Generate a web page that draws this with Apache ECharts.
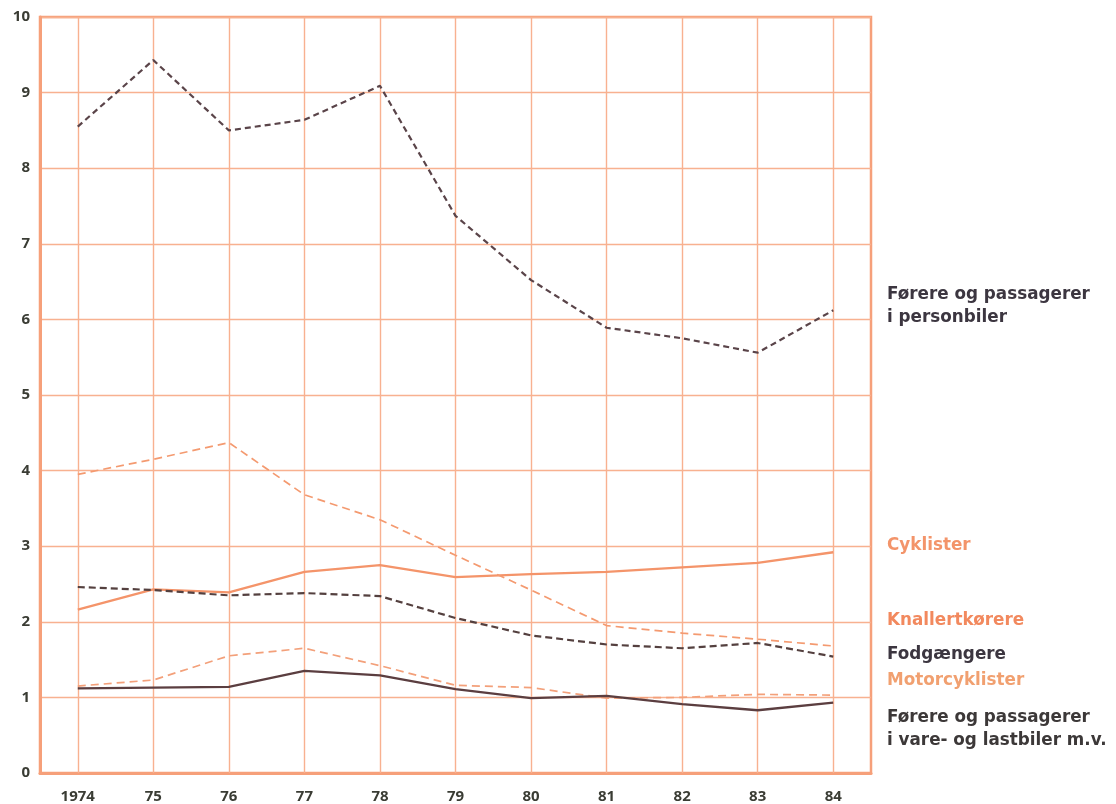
<!DOCTYPE html>
<html>
<head>
<meta charset="utf-8">
<script src="https://cdn.jsdelivr.net/npm/echarts@6/dist/echarts.min.js"></script>
<style>
html,body{margin:0;padding:0;background:#fff;}
#chart{width:1116px;height:804px;}
</style>
</head>
<body>
<div id="chart"></div>
<script>
const categories = ['1974','75','76','77','78','79','80','81','82','83','84'];
const yTicks = [0,1,2,3,4,5,6,7,8,9,10];
const personbiler = [8.55, 9.43, 8.5, 8.64, 9.09, 7.37, 6.52, 5.89, 5.75, 5.56, 6.12];
const cyklister = [2.16, 2.43, 2.39, 2.66, 2.75, 2.59, 2.63, 2.66, 2.72, 2.78, 2.92];
const knallert = [3.95, 4.15, 4.37, 3.68, 3.35, 2.88, 2.42, 1.95, 1.85, 1.77, 1.68];
const fodgaengere = [2.46, 2.42, 2.35, 2.38, 2.34, 2.05, 1.82, 1.70, 1.65, 1.72, 1.54];
const motorcyklister = [1.15, 1.23, 1.55, 1.65, 1.42, 1.16, 1.13, 0.99, 1.0, 1.04, 1.03];
const varebiler = [1.12, 1.13, 1.14, 1.35, 1.29, 1.11, 0.99, 1.02, 0.91, 0.83, 0.93];
const seriesNames = ['Førere og passagerer\ni personbiler','Cyklister','Knallertkørere','Fodgængere','Motorcyklister','Førere og passagerer\ni vare- og lastbiler m.v.'];

const gridColor = '#F8B190';
const borderColor = '#F6A07A';
const textDark = '#3A3C34';
const labelFont = 'bold 16.8px "DejaVu Sans"';

const chart = echarts.init(document.getElementById('chart'), null, {renderer:'canvas'});

function line(name, data, color, type, width, dash){
  return {
    name: name, type: 'line', data: data, symbol: 'none', silent: true,
    lineStyle: {color: color, width: width, type: type === 'dashed' ? dash : 'solid'},
    z: 5
  };
}

const option = {
  animation: false,
  backgroundColor: '#fff',
  grid: {left: 40, top: 17, right: 245, bottom: 31, show: true, borderColor: borderColor, borderWidth: 2.5, backgroundColor: 'transparent'},
  xAxis: {
    type: 'category', data: categories, boundaryGap: true,
    axisLine: {show: true, lineStyle: {color: borderColor, width: 3}},
    axisTick: {show: false},
    splitLine: {show: false},
    axisLabel: {color: textDark, fontFamily: 'Open Sans', fontWeight: 'bold', fontSize: 15, margin: 16}
  },
  yAxis: {
    type: 'value', min: 0, max: 10, interval: 1,
    axisLine: {show: true, lineStyle: {color: borderColor, width: 3}},
    axisTick: {show: false},
    splitLine: {show: true, lineStyle: {color: gridColor, width: 1.4}},
    axisLabel: {color: textDark, fontFamily: 'Open Sans', fontWeight: 'bold', fontSize: 15, margin: 10,
      formatter: function(v){ return yTicks.indexOf(v) >= 0 ? String(v) : ''; }}
  },
  series: [
    {
      type: 'line', data: [], silent: true,
      markLine: {
        silent: true, symbol: 'none', animation: false,
        label: {show: false},
        lineStyle: {color: gridColor, width: 1.4, type: 'solid'},
        data: categories.map(c => ({xAxis: c}))
      }
    },
    line(seriesNames[0], personbiler, '#5A4449', 'dashed', 2.2, [6,4]),
    line(seriesNames[1], cyklister, '#F4946A', 'solid', 2.3),
    line(seriesNames[2], knallert, '#F49A70', 'dashed', 1.7, [8,5]),
    line(seriesNames[3], fodgaengere, '#54403F', 'dashed', 2.2, [7,4]),
    line(seriesNames[4], motorcyklister, '#F3A07A', 'dashed', 1.7, [8,5]),
    line(seriesNames[5], varebiler, '#5B3E40', 'solid', 2.3)
  ],
  graphic: [
    {type:'text', left: 887, top: 283, style:{text: seriesNames[0], fill:'#3C3640', font: labelFont, lineHeight: 23}},
    {type:'text', left: 887, top: 537, style:{text: seriesNames[1], fill:'#F3946A', font: labelFont}},
    {type:'text', left: 887, top: 612, style:{text: seriesNames[2], fill:'#F2895E', font: labelFont}},
    {type:'text', left: 887, top: 646, style:{text: seriesNames[3], fill:'#3C3640', font: labelFont}},
    {type:'text', left: 887, top: 672, style:{text: seriesNames[4], fill:'#F1A070', font: labelFont}},
    {type:'text', left: 887, top: 706, style:{text: seriesNames[5], fill:'#3C3838', font: labelFont, lineHeight: 23}}
  ]
};
chart.setOption(option);
</script>
</body>
</html>
